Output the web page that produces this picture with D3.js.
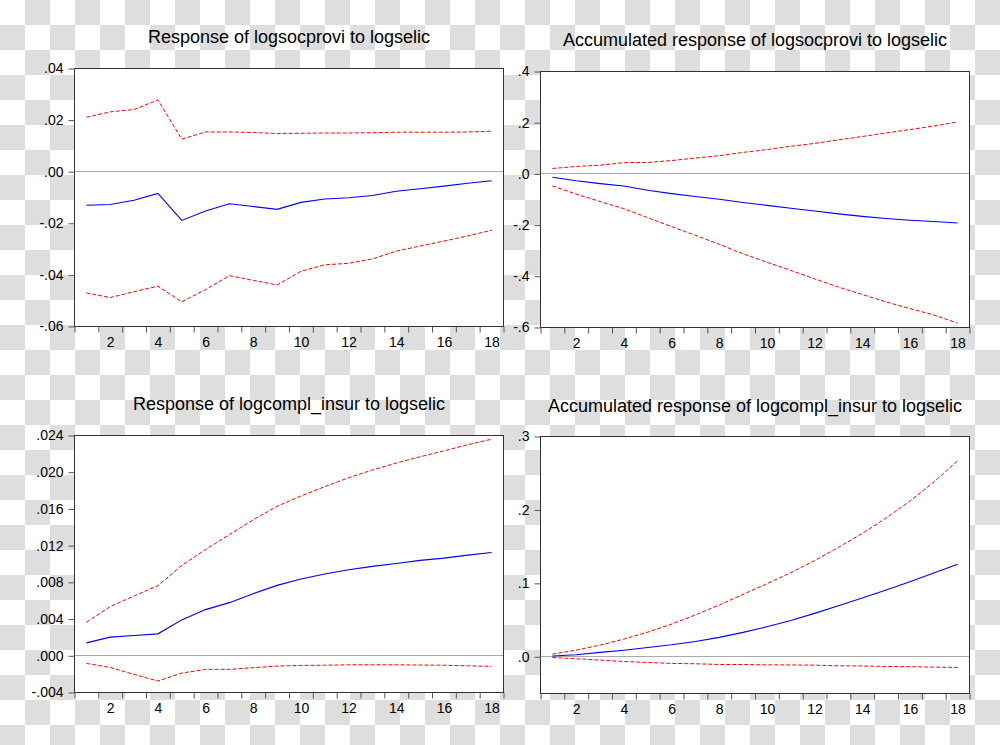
<!DOCTYPE html>
<html>
<head>
<meta charset="utf-8">
<script src="https://cdn.jsdelivr.net/npm/d3@7"></script>
<style>
  body { margin: 0; }
  svg { display: block; }
  text { font-family: "Liberation Sans", Arial, sans-serif; fill: #000; }
</style>
</head>
<body>
<div class="container"></div>
<script>
// datos (horizonte 1..18)
const periods = [1, 2, 3, 4, 5, 6, 7, 8, 9, 10, 11, 12, 13, 14, 15, 16, 17, 18]
const xTickLabels = [2, 4, 6, 8, 10, 12, 14, 16, 18]

// Response of logsocprovi to logselic
const socResp  = [-0.0130, -0.0127, -0.0111, -0.0084, -0.0189, -0.0152, -0.0124, -0.0135, -0.0146, -0.0119, -0.0106, -0.0101, -0.0092, -0.0076, -0.0066, -0.0056, -0.0045, -0.0035]
const socUpper = [0.0211, 0.0232, 0.0241, 0.0278, 0.0126, 0.0154, 0.0154, 0.0152, 0.0148, 0.0149, 0.0150, 0.0150, 0.0151, 0.0153, 0.0153, 0.0153, 0.0154, 0.0157]
const socLower = [-0.0470, -0.0488, -0.0465, -0.0444, -0.0504, -0.0457, -0.0403, -0.0421, -0.0439, -0.0386, -0.0361, -0.0355, -0.0338, -0.0308, -0.0288, -0.0269, -0.0249, -0.0227]
const socTicks = [-0.06, -0.04, -0.02, 0, 0.02, 0.04]
const socDomain = [-0.06, 0.04]

// Accumulated response of logsocprovi to logselic
const accSocResp  = [-0.013, -0.027, -0.038, -0.047, -0.064, -0.077, -0.088, -0.099, -0.112, -0.123, -0.134, -0.145, -0.156, -0.166, -0.174, -0.181, -0.186, -0.192]
const accSocUpper = [0.021, 0.029, 0.034, 0.044, 0.045, 0.052, 0.062, 0.071, 0.084, 0.095, 0.108, 0.119, 0.133, 0.146, 0.160, 0.173, 0.187, 0.203]
const accSocLower = [-0.047, -0.079, -0.108, -0.136, -0.171, -0.206, -0.240, -0.275, -0.312, -0.345, -0.377, -0.410, -0.442, -0.471, -0.500, -0.526, -0.551, -0.583]
const accSocTicks = [-0.6, -0.4, -0.2, 0, 0.2, 0.4]
const accSocDomain = [-0.6, 0.4]

// Response of logcompl_insur to logselic
const complResp  = [0.00141, 0.00203, 0.00221, 0.00239, 0.00391, 0.00503, 0.00579, 0.00677, 0.00767, 0.00836, 0.00891, 0.00938, 0.00974, 0.01006, 0.01039, 0.01064, 0.01097, 0.01126]
const complUpper = [0.00366, 0.00536, 0.00652, 0.00764, 0.00985, 0.01158, 0.01321, 0.01481, 0.01629, 0.01741, 0.01843, 0.01940, 0.02024, 0.02100, 0.02168, 0.02233, 0.02299, 0.02360]
const complLower = [-0.00083, -0.00127, -0.00203, -0.00275, -0.00188, -0.00148, -0.00148, -0.00130, -0.00112, -0.00105, -0.00103, -0.00098, -0.00098, -0.00098, -0.00101, -0.00103, -0.00109, -0.00116]
const complTicks = [-0.004, 0, 0.004, 0.008, 0.012, 0.016, 0.020, 0.024]
const complDomain = [-0.004, 0.024]

// Accumulated response of logcompl_insur to logselic
const accComplResp  = [0.0010, 0.0027, 0.0060, 0.0090, 0.0127, 0.0164, 0.0209, 0.0264, 0.0332, 0.0409, 0.0495, 0.0591, 0.0695, 0.0800, 0.0909, 0.1023, 0.1141, 0.1259]
const accComplUpper = [0.0036, 0.0091, 0.0159, 0.0241, 0.0336, 0.0445, 0.0570, 0.0705, 0.0850, 0.0995, 0.1145, 0.1310, 0.1490, 0.1680, 0.1890, 0.2120, 0.2380, 0.2668]
const accComplLower = [-0.0010, -0.0027, -0.0045, -0.0064, -0.0077, -0.0090, -0.0095, -0.0105, -0.0105, -0.0110, -0.0111, -0.0114, -0.0123, -0.0125, -0.0132, -0.0135, -0.0141, -0.0145]
const accComplTicks = [0, 0.1, 0.2, 0.3]
const accComplDomain = [-0.05, 0.3]

const width = 1000
const height = 745

const panels = [
  {title: "Response of logsocprovi to logselic", resp: socResp, up: socUpper, lo: socLower,
   ticks: socTicks, domain: socDomain, dec: 2, box: {x: 74.5, y: 68.5, w: 429, h: 258}, ty: 43},
  {title: "Accumulated response of logsocprovi to logselic", resp: accSocResp, up: accSocUpper, lo: accSocLower,
   ticks: accSocTicks, domain: accSocDomain, dec: 1, box: {x: 540.5, y: 71.5, w: 429, h: 256}, ty: 46},
  {title: "Response of logcompl_insur to logselic", resp: complResp, up: complUpper, lo: complLower,
   ticks: complTicks, domain: complDomain, dec: 3, box: {x: 74.5, y: 435.5, w: 429, h: 257}, ty: 410},
  {title: "Accumulated response of logcompl_insur to logselic", resp: accComplResp, up: accComplUpper, lo: accComplLower,
   ticks: accComplTicks, domain: accComplDomain, dec: 1, box: {x: 540.5, y: 436.5, w: 429, h: 257}, ty: 412}
]

const svg = d3.select(".container").append("svg").attr("width", width).attr("height", height)

// fondo a cuadros (transparencia)
const defs = svg.append("defs")
const pat = defs.append("pattern").attr("id", "checker").attr("width", 50).attr("height", 50)
  .attr("patternUnits", "userSpaceOnUse")
pat.append("rect").attr("width", 50).attr("height", 50).attr("fill", "#fff")
pat.append("rect").attr("x", 25).attr("y", 0).attr("width", 25).attr("height", 25).attr("fill", "#dedede")
pat.append("rect").attr("x", 0).attr("y", 25).attr("width", 25).attr("height", 25).attr("fill", "#dedede")
svg.append("rect").attr("width", width).attr("height", height).attr("fill", "url(#checker)")

// formato tipo EViews: .04, -.02, .000
function fmt(dec) {
  const f = d3.format("." + dec + "f")
  return v => f(v).replace("\u2212", "-").replace(/^(-?)0\./, "$1.")
}

const halfTicks = periods.map(p => p - 0.5).concat([periods[periods.length - 1] + 0.5])

panels.forEach(p => {
  const b = p.box
  const g = svg.append("g").attr("transform", `translate(${b.x},${b.y})`)

  const x = d3.scaleLinear().domain([0.5, 18.5]).range([0, b.w])
  const y = d3.scaleLinear().domain(p.domain).range([b.h, 0])

  g.append("rect").attr("width", b.w).attr("height", b.h).attr("fill", "#fff")

  // linea de cero
  const y0 = Math.round(y(0))
  g.append("line").attr("x1", 0).attr("x2", b.w).attr("y1", y0).attr("y2", y0)
    .attr("stroke", "#aaa").attr("stroke-width", 1)

  const line = d3.line().x((d, i) => x(periods[i])).y(d => y(d))

  g.append("path").datum(p.up).attr("d", line).attr("fill", "none")
    .attr("stroke", "#ff0000").attr("stroke-width", 1).attr("stroke-dasharray", "4,2")
  g.append("path").datum(p.lo).attr("d", line).attr("fill", "none")
    .attr("stroke", "#ff0000").attr("stroke-width", 1).attr("stroke-dasharray", "4,2")
  g.append("path").datum(p.resp).attr("d", line).attr("fill", "none")
    .attr("stroke", "#0000ff").attr("stroke-width", 1.1)

  // marco
  g.append("rect").attr("width", b.w).attr("height", b.h).attr("fill", "none")
    .attr("stroke", "#333").attr("stroke-width", 1)

  // ejes
  const yAxis = d3.axisLeft(y).tickValues(p.ticks).tickFormat(fmt(p.dec)).tickSize(6).tickPadding(5)
  const yg = g.append("g").call(yAxis)
  yg.select(".domain").remove()
  yg.selectAll("line").attr("stroke", "#555")
  yg.selectAll("text").style("font-size", "14px").style("font-family", "'Liberation Sans', Arial, sans-serif").attr("fill", "#000")

  const xTicks = d3.axisBottom(x).tickValues(halfTicks).tickFormat("").tickSize(6)
  const xg = g.append("g").attr("transform", `translate(0,${b.h})`).call(xTicks)
  xg.select(".domain").remove()
  xg.selectAll("line").attr("stroke", "#555")

  const xLabels = d3.axisBottom(x).tickValues(xTickLabels).tickFormat(d3.format("d")).tickSize(0).tickPadding(11)
  const xl = g.append("g").attr("transform", `translate(0,${b.h})`).call(xLabels)
  xl.select(".domain").remove()
  xl.selectAll("text").style("font-size", "14px").style("font-family", "'Liberation Sans', Arial, sans-serif").attr("fill", "#000")

  svg.append("text")
    .attr("x", b.x + b.w / 2).attr("y", p.ty)
    .attr("text-anchor", "middle")
    .style("font-size", "18px")
    .text(p.title)
})
</script>
</body>
</html>
